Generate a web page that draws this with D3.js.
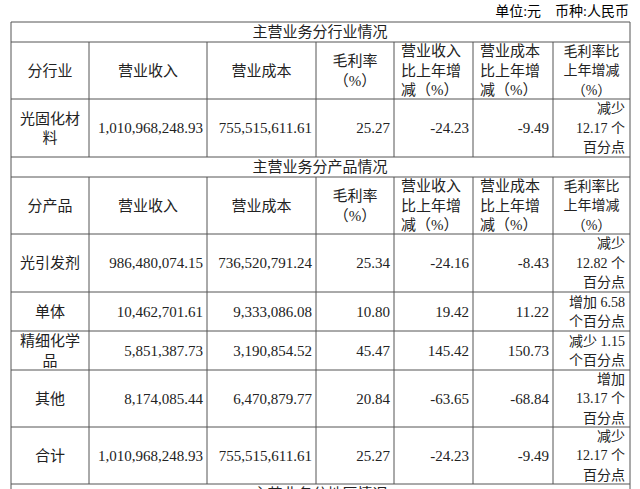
<!DOCTYPE html><html><head><meta charset="utf-8">
<script src="https://cdn.jsdelivr.net/npm/d3@7"></script>
<style>body{margin:0;background:#fff}</style></head><body>
<script>
const headers=[["分行业"],["营业收入"],["营业成本"],["毛利率","（%）"],["营业收入","比上年增","减（%）"],["营业成本","比上年增","减（%）"],["毛利率比","上年增减","（%）"]];
const headers2=[["分产品"],["营业收入"],["营业成本"],["毛利率","（%）"],["营业收入","比上年增","减（%）"],["营业成本","比上年增","减（%）"],["毛利率比","上年增减","（%）"]];
const industryRows=[["光固化材料","1,010,968,248.93","755,515,611.61","25.27","-24.23","-9.49","减少 12.17 个 百分点"]];
const productNames=["光引发剂","单体","精细化学品","其他","合计"];
const revenue=["986,480,074.15","10,462,701.61","5,851,387.73","8,174,085.44","1,010,968,248.93"];
const cost=["736,520,791.24","9,333,086.08","3,190,854.52","6,470,879.77","755,515,611.61"];
const margin=["25.34","10.80","45.47","20.84","25.27"];
const revChg=["-24.16","19.42","145.42","-63.65","-24.23"];
const costChg=["-8.43","11.22","150.73","-68.84","-9.49"];
const marginChg=[["减少","12.82 个","百分点"],["增加 6.58","个百分点"],["减少 1.15","个百分点"],["增加","13.17 个","百分点"],["减少","12.17 个","百分点"]];

const W=640,H=489;
const svg=d3.select("body").append("svg").attr("width",W).attr("height",H);
const colEdges=[11,89,207,316,394,473,553,630];
const rowEdges=[22,42,99,157,177,234,292,331,370,427,484,510];
const cx=i=>colEdges[i];
const cn="'Liberation Serif','Noto Sans CJK SC',serif";
const lh=19.5;
svg.append("text").attr("x",629).attr("y",16).attr("text-anchor","end").attr("font-family",cn).attr("font-size",14).text("单位:元　币种:人民币");
function lines(arr,x0,yTop,yBot,anchor,fs){
  fs=fs||15;
  const n=arr.length, mid=(yTop+yBot)/2, start=mid-(n-1)*lh/2;
  const t=svg.append("text").attr("font-family",cn).attr("font-size",fs).attr("fill","#222").attr("text-anchor",anchor);
  arr.forEach((s,i)=>t.append("tspan").attr("x",x0).attr("y",start+i*lh).attr("dy","0.35em").text(s));
}
function cell(arr,c,r0,r1,mode){
  const L=cx(c),R=colEdges[c+1];
  const fs=c===6?14:15;
  if(mode==="r") lines(arr,R-(c===6?5:4),r0,r1,"end",fs);
  else if(mode==="l") lines(arr,L+7,r0,r1,"start",fs);
  else lines(arr,(L+R)/2,r0,r1,"middle",fs);
}
const g=svg.append("g").attr("stroke","#555").attr("stroke-width",1).attr("fill","none");
rowEdges.slice(0,11).forEach(y=>g.append("line").attr("x1",11).attr("x2",630).attr("y1",y).attr("y2",y));
g.append("line").attr("x1",11).attr("x2",11).attr("y1",22).attr("y2",H);
g.append("line").attr("x1",630).attr("x2",630).attr("y1",22).attr("y2",H);
[[42,157],[177,484]].forEach(([a,b])=>colEdges.slice(1,7).forEach(xx=>g.append("line").attr("x1",xx).attr("x2",xx).attr("y1",a).attr("y2",b)));
lines(["主营业务分行业情况"],320,22,42,"middle");
lines(["主营业务分产品情况"],320,157,177,"middle");
lines(["主营业务分地区情况"],320,484,504,"middle");
function header(h,y0,y1){h.forEach((a,i)=>cell(a,i,y0,y1,(i===4||i===5)?"l":"c"));}
header(headers,42,99);
header(headers2,177,234);
const ir=industryRows[0];
cell(["光固化材","料"],0,99,157,"c");
[1,2,3,4,5].forEach(i=>cell([ir[i]],i,99,157,"r"));
cell(["减少","12.17 个","百分点"],6,99,157,"r");
productNames.forEach((p,k)=>{
  const y0=rowEdges[5+k],y1=rowEdges[6+k];
  cell(p==="精细化学品"?["精细化学","品"]:[p],0,y0,y1,"c");
  cell([revenue[k]],1,y0,y1,"r");cell([cost[k]],2,y0,y1,"r");cell([margin[k]],3,y0,y1,"r");
  cell([revChg[k]],4,y0,y1,"r");cell([costChg[k]],5,y0,y1,"r");cell(marginChg[k],6,y0,y1,"r");
});
</script></body></html>
